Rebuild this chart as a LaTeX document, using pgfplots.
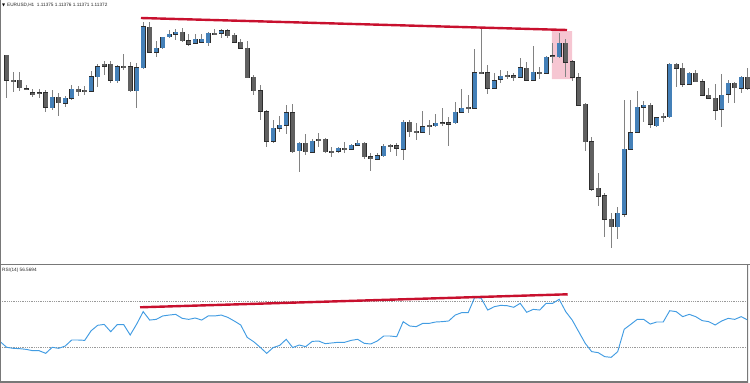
\documentclass[border=0pt]{standalone}
\usepackage{pgfplots}
\pgfplotsset{compat=1.18}
\usepackage{pgfplotstable}
\usepackage{fontspec}
\setmainfont{Liberation Sans}
\newfontfamily\dejavu{DejaVu Sans}
\definecolor{candleblue}{RGB}{68,128,184}
\definecolor{candlegray}{RGB}{96,96,96}
\definecolor{bodyline}{RGB}{45,45,45}
\definecolor{wickgray}{RGB}{130,130,130}
\definecolor{divred}{RGB}{200,16,46}
\definecolor{pinkbox}{RGB}{246,198,210}
\definecolor{rsiblue}{RGB}{66,156,226}
\definecolor{framegray}{RGB}{120,120,120}

\pgfplotstableread{
i o h l c
7 156.3 174 154 166.7
9 160.7 168.3 157.3 165.7
10 165.7 179 164 175
13 173 193 172.3 187.3
14 187.3 200 176.7 197.3
17 183.3 199 181.3 197.3
20 173.3 201 155.7 196.3
21 196.3 241.7 194.7 237.3
23 211.7 223.3 207.3 215.7
24 216.3 227.3 214.7 226.7
25 227.3 234 226.3 229.7
26 229.7 234.7 224 231.7
29 220.7 229.7 220 224.7
30 221.7 230 220.7 225
31 221.3 231.7 218 230.7
33 230.7 235 225.7 233.3
41 123 144 121.3 135.7
42 135.7 148 132.3 139
43 139 159 130 151.3
45 113.3 122 92.3 120.7
47 111.7 125 110.7 123
51 113 117.3 110.7 115.7
53 114.7 119.7 114 119
54 119 124 118.7 120.7
57 105 110.7 104 108.5
58 108.5 119.7 107.3 118
61 115 144 104 141.7
64 132 153 130.7 137.3
66 138.2 150 137.3 140.7
69 141.3 162.3 140 151.7
70 151.7 174.7 150.7 155.7
72 155.7 214.7 154.7 191.3
75 175.7 190.7 175 183.3
76 184.7 194 180.7 188
79 186.7 205.7 185.7 196.3
81 184 218 183.3 191.7
83 190.7 208 190 206.7
85 207.5 230.7 206.3 220.7
94 37.3 56.7 24.7 50.7
95 50 164 47.3 115
96 115 164 114 131.3
97 131.7 173.3 130.7 156.7
98 156.7 163.3 142.3 159
100 138.3 147.3 137.3 146.3
102 147.3 200.7 146.3 199.7
105 180 192.3 179 190.7
110 154.7 190 136.7 169
111 170 184 160.7 180.7
113 175.7 188 171.3 186.7
}\bull

\pgfplotstableread{
i o h l c
0 209 209.5 166 184
1 184 192 172 183
2 184 192 173 176.3
3 175.3 179 174 174.7
4 171.3 175 167 169.7
5 171.3 175 166 170.3
6 171.3 174 152.3 156.7
8 166.7 170.7 148 161.3
11 175 178 168.3 172.3
12 173.5 178 169 173
15 199.7 203 189 198
16 200 203 180.7 184
18 197.3 209.7 194 196.8
19 197.3 202.3 172.3 173.3
22 237 241.7 211 211.7
27 231.7 235.7 222.3 223.3
28 223.3 229.7 218.3 220
32 230.7 234.7 229 230.2
34 233.3 234.7 226.3 228.3
35 229 230.7 220.7 221.7
36 221.7 224.7 214.7 215.7
37 215.7 223.3 185.7 186.3
38 186.7 189 169 173.3
39 173.3 179 144 153
40 152.3 154 117.3 123
44 151.3 159.7 111.3 112.3
46 120.7 130 109 112.3
48 125 131.3 117.3 123.3
49 124.7 125.7 110.7 112.3
50 113 117.3 107.3 111.7
52 115.3 122.3 110.7 115
55 120.7 121.7 105 107.3
56 107.3 110.7 93 105.5
59 118.6 119.7 112.3 118.3
60 118.3 120.7 108 115.7
62 141.7 144 127.3 132.3
63 133 140.7 124 131.7
65 138.7 144 129 138.3
67 140.7 155.7 137.7 140.5
68 141.3 147 118 140
71 156.6 169 150.7 156.2
73 191.5 234.7 190 191.3
74 191.3 199 170 175.7
77 188.5 193.3 185 188.3
78 188.3 190.7 183 186.7
80 195.7 202.3 183.3 184
82 191.5 197.3 184.7 191.3
84 208 220.7 201 207.7
86 220.7 224.7 187.3 201.7
87 202.3 204 183.3 186.7
88 186.3 190.7 158 159
89 159.7 160.7 113.3 122.3
90 122.3 126.7 73.3 74.7
91 75.7 90.7 58 68
92 68.3 71.3 26.7 44.7
93 44.7 51.3 15.7 37.3
99 159 160.7 135.7 139.7
101 147.3 151.3 142.3 147
103 199.7 200.7 176.7 195.7
104 195.7 200.7 177.3 180
106 190.7 194 182 182.3
107 182.3 184.7 168 169
108 169 175.7 164.7 165.7
109 165.7 180 144 154
112 180.7 182.3 161.3 176.3
114 186.7 195.7 174 175.7
}\bear

\pgfplotstableread{
i r
-1 34.9
0 30.0
1 29.1
2 28.8
3 28.2
4 27.0
5 27.0
6 24.7
7 30.0
8 29.1
9 31.1
10 36.4
11 36.4
12 36.1
13 44.6
14 49.3
15 50.1
16 43.7
17 49.9
18 49.9
19 40.8
20 50.4
21 61.3
22 53.9
23 54.5
24 57.5
25 58.3
26 58.9
27 55.4
28 54.5
29 55.7
30 53.9
31 57.5
32 57.5
33 58.3
34 56.3
35 53.1
36 49.6
37 38.7
38 34.9
39 30.0
40 24.7
41 29.8
42 31.7
43 37.0
44 29.8
45 32.0
46 30.6
47 35.2
48 35.5
49 33.2
50 33.8
51 34.4
52 34.4
53 36.1
54 37.0
55 33.5
56 32.9
57 35.5
58 39.9
59 39.9
60 39.3
61 52.5
62 48.7
63 48.1
64 51.0
65 51.0
66 52.2
67 52.5
68 53.1
69 58.3
70 60.4
71 60.4
72 73.8
73 73.0
74 62.7
75 65.6
76 66.8
77 66.5
78 65.1
79 68.6
80 60.7
81 63.3
82 62.7
83 68.6
84 68.6
85 72.1
86 61.3
87 53.9
88 43.7
89 33.5
90 26.2
91 25.3
92 21.8
93 21.2
94 26.2
95 45.8
96 50.1
97 54.5
98 54.5
99 50.4
100 52.2
101 52.2
102 62.1
103 61.3
104 56.9
105 58.9
106 56.9
107 53.4
108 52.5
109 49.6
110 53.1
111 55.4
112 54.5
113 56.9
114 53.9
}\rsi

\pgfplotsset{
  wicks/.style={draw=none, mark=none, forget plot,
    error bars/.cd, y dir=both, y explicit, error mark=none,
    error bar style={solid, line width=1.1pt, draw=wickgray}},
  bodyedge/.style={draw=none, mark=none, forget plot,
    error bars/.cd, y dir=both, y explicit, error mark=none,
    error bar style={solid, line width=4.7pt, draw=bodyline}},
  bodyfill/.style={draw=none, mark=none, forget plot,
    error bars/.cd, y dir=both, y explicit, error mark=none,
    error bar style={solid, line width=3.7pt, draw=#1}},
}

\begin{document}
\begin{tikzpicture}
\path[use as bounding box] (0pt,0pt) rectangle (750pt,-383pt);

\begin{axis}[at={(0pt,0pt)}, anchor=north west, scale only axis,
  width=750pt, height=264pt,
  xmin=-1.031, xmax=114.354, ymin=0, ymax=264,
  hide axis, clip=true]
  % highlight box
  \addplot[fill=pinkbox, draw=none, forget plot]
    coordinates {(83.89,185) (86.97,185) (86.97,233) (83.89,233) (83.89,185)};
  % wicks
  \addplot[wicks] table[x=i, y expr={(\thisrow{h}+\thisrow{l})/2},
    y error expr={(\thisrow{h}-\thisrow{l})/2}] {\bull};
  \addplot[wicks] table[x=i, y expr={(\thisrow{h}+\thisrow{l})/2},
    y error expr={(\thisrow{h}-\thisrow{l})/2}] {\bear};
  % bodies
  \addplot[bodyedge] table[x=i, y expr={(\thisrow{o}+\thisrow{c})/2},
    y error expr={max(abs(\thisrow{c}-\thisrow{o})/2,0.5)+0.5}] {\bull};
  \addplot[bodyedge] table[x=i, y expr={(\thisrow{o}+\thisrow{c})/2},
    y error expr={max(abs(\thisrow{c}-\thisrow{o})/2,0.5)+0.5}] {\bear};
  \addplot[bodyfill=candleblue] table[x=i, y expr={(\thisrow{o}+\thisrow{c})/2},
    y error expr={max(abs(\thisrow{c}-\thisrow{o})/2,0.5)}] {\bull};
  \addplot[bodyfill=candlegray] table[x=i, y expr={(\thisrow{o}+\thisrow{c})/2},
    y error expr={max(abs(\thisrow{c}-\thisrow{o})/2,0.5)}] {\bear};
  % divergence line
  \addplot[divred, line width=2.4pt, forget plot] coordinates {(20.66,246) (86.2,234)};
  % frame
  \draw[framegray, line width=1.2pt] (rel axis cs:0,1) -- (rel axis cs:0,0);
\end{axis}

\draw[framegray, line width=1.4pt] (0pt,-264.7pt) -- (750pt,-264.7pt);

\node[anchor=center, inner sep=0pt, text=black, font=\dejavu\fontsize{4}{4}\selectfont] at (3.6pt,-5pt) {▼};
\node[anchor=west, inner sep=0pt, text=black!85, font=\fontsize{4.7}{5}\selectfont] at (7pt,-5pt) {EURUSD,H1\ \ 1.11375 1.11376 1.11371 1.11372};

\begin{axis}[at={(0pt,-265pt)}, anchor=north west, scale only axis,
  width=748pt, height=117pt,
  xmin=-1.031, xmax=114.046, ymin=-0.44, ymax=102.2,
  hide axis, clip=true]
  \addplot[gray!80, line width=0.6pt, dash pattern=on 0.6pt off 1.2pt, forget plot]
    coordinates {(-1.031,70) (114.046,70)};
  \addplot[gray!80, line width=0.6pt, dash pattern=on 0.6pt off 1.2pt, forget plot]
    coordinates {(-1.031,30) (114.046,30)};
  \addplot[rsiblue, line width=0.95pt, forget plot] table[x=i, y=r] {\rsi};
  \addplot[divred, line width=2.4pt, forget plot] coordinates {(20.51,65.1) (86.31,76.5)};
  \draw[framegray, line width=1.2pt] (rel axis cs:0,1) -- (rel axis cs:0,0) -- (rel axis cs:1,0) -- (rel axis cs:1,1);
\end{axis}

\node[anchor=west, inner sep=0pt, text=black!85, font=\fontsize{4.7}{5}\selectfont] at (2pt,-270.5pt) {RSI(14) 56.5694};
\end{tikzpicture}
\end{document}
